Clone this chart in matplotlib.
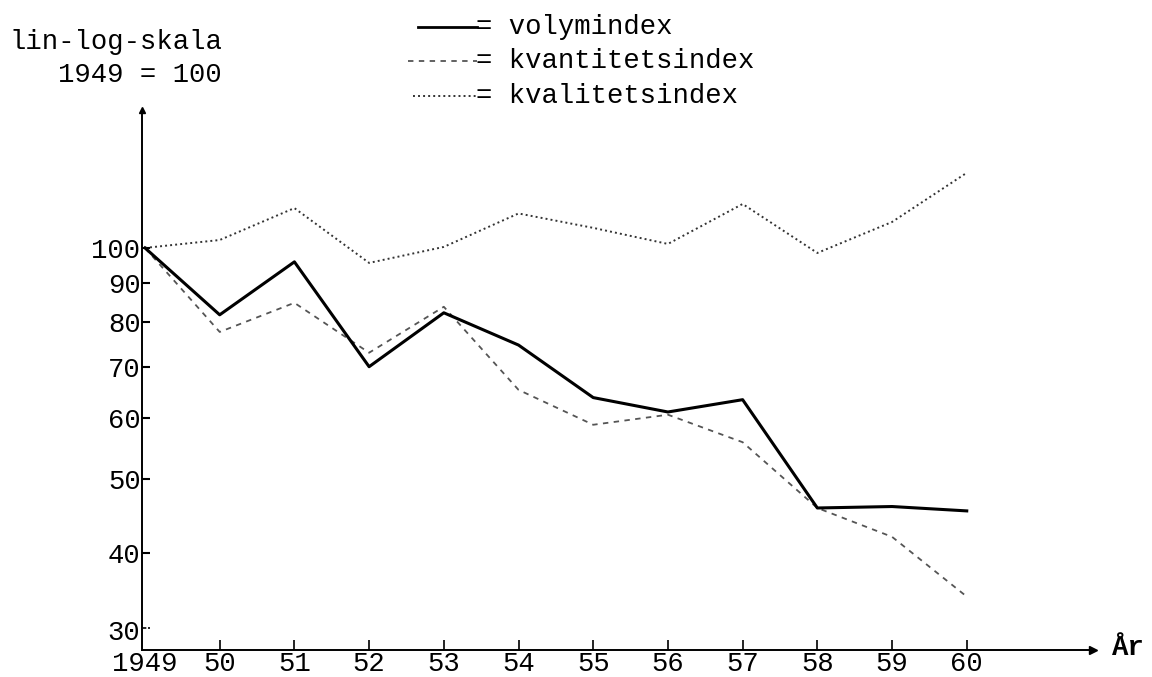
import matplotlib
matplotlib.use("Agg")
import matplotlib.pyplot as plt
from matplotlib.lines import Line2D
from matplotlib.ticker import FixedLocator, FixedFormatter, NullLocator

years = [1949, 1950, 1951, 1952, 1953, 1954, 1955, 1956, 1957, 1958, 1959, 1960]
year_labels = ["1949", "50", "51", "52", "53", "54", "55", "56", "57", "58", "59", "60"]
volymindex = [100, 81.8, 95.9, 70.0, 82.3, 74.7, 63.8, 61.1, 63.4, 45.8, 46.0, 45.4]
kvantitetsindex = [100, 77.7, 84.8, 73.0, 83.8, 65.3, 58.8, 60.6, 55.8, 45.8, 42.0, 35.1]
kvalitetsindex = [100, 102.4, 112.7, 95.6, 100.3, 110.9, 106.2, 101.2, 114.1, 98.5, 108.1, 125.3]
y_ticks = [30, 40, 50, 60, 70, 80, 90, 100]
y_tick_labels = ["30", "40", "50", "60", "70", "80", "90", "100"]

W, H = 1152, 677
fig = plt.figure(figsize=(W / 100, H / 100), dpi=100)
FONT = "Liberation Mono"
FS = 19.6

def fx(px):
    return px / W

def fy(py):
    return 1 - py / H

ax = fig.add_axes([fx(142), fy(650), fx(1093) - fx(142), fy(110) - fy(650)])
ax.set_yscale("log")
ax.set_xlim(1948.96, 1961.69)
ax.set_ylim(29.9, 151.3)

ax.plot(years, kvalitetsindex, color="#333333", lw=1.4, dashes=(1, 1.6))
ax.plot(years, kvantitetsindex, color="#555555", lw=1.3, dashes=(3, 3))
ax.plot(years, volymindex, color="black", lw=2.2)

for s in ["top", "right"]:
    ax.spines[s].set_visible(False)
ax.spines["left"].set_linewidth(1.4)
ax.spines["bottom"].set_linewidth(1.4)

# y ticks (the lowest label, 30, sits just above the x axis as in the original)
ax.yaxis.set_major_locator(FixedLocator(y_ticks[1:]))
ax.yaxis.set_major_formatter(FixedFormatter(y_tick_labels[1:]))
ax.yaxis.set_minor_locator(NullLocator())
ax.xaxis.set_major_locator(FixedLocator(years))
ax.xaxis.set_major_formatter(FixedFormatter(year_labels))
ax.tick_params(axis="y", direction="in", length=6, width=1.5, pad=1,
               labelsize=FS, labelfontfamily=FONT)
ax.tick_params(axis="x", direction="in", length=7, width=1.2, pad=0.5,
               labelsize=FS, labelfontfamily=FONT)
ax.xaxis.get_major_ticks()[0].tick1line.set_visible(False)
fig.text(fx(140), fy(633), y_tick_labels[0], ha="right", va="center", fontsize=FS, family=FONT)
fig.add_artist(Line2D([fx(143), fx(150)], [fy(628), fy(628)], transform=fig.transFigure,
                      color="black", lw=1.2, dashes=(2, 1)))

# axis arrows
ax.plot(1, 0, marker=">", color="black", markersize=6, transform=ax.transAxes, clip_on=False)
ax.plot(0, 1, marker="^", color="black", markersize=4, transform=ax.transAxes, clip_on=False)

# header
fig.text(fx(222), fy(42), "lin-log-skala", ha="right", va="center", fontsize=FS, family=FONT)
fig.text(fx(222), fy(75), "1949 = 100", ha="right", va="center", fontsize=FS, family=FONT)

# legend
rows = [(27, 418, dict(color="black", lw=2.0), "= volymindex"),
        (61, 408, dict(color="#555555", lw=1.3, dashes=(3, 3)), "= kvantitetsindex"),
        (96, 413, dict(color="#333333", lw=1.4, dashes=(1, 1.6)), "= kvalitetsindex")]
for yy, x0, style, label in rows:
    fig.add_artist(Line2D([fx(x0), fx(477)], [fy(yy), fy(yy)], transform=fig.transFigure, **style))
    fig.text(fx(476), fy(yy), label, ha="left", va="center", fontsize=FS, family=FONT)

fig.text(fx(1112), fy(648), "År", ha="left", va="center", fontsize=FS, family=FONT, weight="bold")

fig.savefig("out.png", dpi=100)
